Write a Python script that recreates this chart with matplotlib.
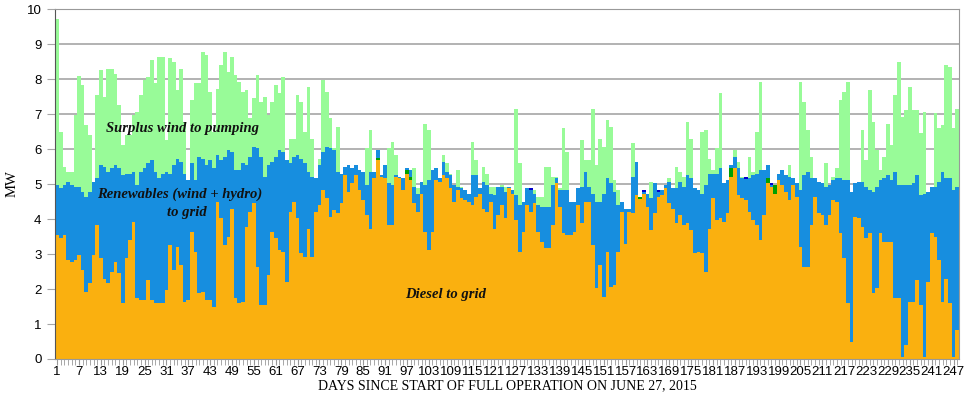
import numpy as np
import matplotlib
matplotlib.use("Agg")
import matplotlib.pyplot as plt

# stack tops, MW per day (day 1 .. 248)
total_top = [
    9.71, 6.50, 5.50, 5.35, 5.35, 6.97, 8.10, 7.83, 6.69, 6.40, 5.07, 7.54, 8.26, 7.50, 8.30, 8.30, 8.16, 7.26, 6.11, 6.40, 6.40, 6.97, 7.07, 7.54, 7.97, 8.07,
    8.54, 7.88, 8.64, 8.64, 6.26, 8.59, 8.50, 7.69, 8.30, 6.78, 5.11, 7.40, 7.88, 7.88, 8.78, 8.69, 7.64, 6.50, 7.73, 8.40, 8.78, 8.21, 8.64, 8.11, 7.92,
    7.64, 7.69, 6.88, 7.45, 8.11, 7.35, 7.50, 6.97, 7.35, 7.83, 7.59, 8.07, 5.69, 6.30, 6.30, 7.54, 7.35, 6.50, 7.78, 6.30, 5.16, 5.73, 7.97, 7.64, 6.88, 6.02, 6.64,
    5.30, 5.50, 5.54, 5.45, 5.54, 5.40, 5.35, 6.02, 6.54, 5.35, 5.97, 5.26, 5.54, 6.02, 6.21, 5.83, 5.21, 5.16, 5.45, 5.40, 5.45, 4.88, 5.07, 6.73, 6.54,
    5.40, 5.45, 5.16, 5.83, 5.59, 5.30, 4.97, 5.40, 4.92, 4.83, 4.73, 6.21, 5.69, 4.88, 5.50, 5.30, 4.92, 4.92, 4.92, 4.97, 4.92, 4.92, 4.83, 7.16, 5.59, 4.50, 4.88,
    4.88, 4.83, 4.64, 4.64, 5.50, 5.50, 5.21, 5.21, 4.88, 6.59, 5.92, 4.50, 4.50, 4.88, 6.26, 5.69, 5.69, 7.16, 5.54, 6.30, 6.07, 6.83, 6.64, 5.11, 4.83, 4.50,
    4.30, 4.30, 6.16, 5.64, 4.64, 4.83, 4.73, 5.07, 5.02, 4.83, 4.83, 4.97, 5.16, 4.88, 5.50, 5.35, 5.21, 6.78, 6.30, 4.88, 4.83, 6.50, 6.54, 5.73, 5.40, 6.02, 7.59,
    5.02, 5.11, 5.54, 5.97, 5.64, 5.21, 5.21, 5.78, 5.35, 6.50, 7.92, 5.40, 5.54, 5.02, 4.97, 5.30, 5.40, 5.26, 5.54, 5.16, 5.02, 7.92, 7.35, 6.54, 5.78,
    5.16, 5.07, 5.02, 5.59, 4.97, 5.21, 5.45, 7.40, 7.64, 7.92, 4.78, 5.02, 5.07, 6.54, 5.69, 7.69, 6.78, 5.97, 5.40, 5.78, 6.73, 6.11, 7.54, 8.50, 6.92, 7.11, 7.78,
    7.11, 7.11, 6.45, 7.07, 4.78, 4.92, 7.02, 6.59, 6.69, 8.40, 8.35, 6.59, 7.16,
]
renew_top = [
    4.97, 4.88, 4.97, 5.07, 4.97, 4.92, 4.92, 4.78, 4.64, 4.78, 5.07, 5.16, 5.54, 5.50, 5.35, 5.45, 5.54, 5.45, 5.26, 5.30, 5.30, 5.35, 4.97, 5.35, 5.45, 5.59,
    5.69, 5.35, 5.16, 5.30, 5.35, 5.30, 5.54, 5.73, 5.64, 5.30, 5.11, 5.59, 5.11, 5.78, 5.73, 5.54, 5.69, 5.45, 5.83, 5.69, 5.78, 5.97, 5.92, 5.40, 5.40,
    5.59, 5.54, 5.78, 6.07, 6.02, 5.78, 5.21, 5.54, 5.64, 5.78, 5.97, 5.92, 5.69, 5.59, 5.78, 5.83, 5.73, 5.59, 5.35, 5.21, 5.16, 5.54, 5.92, 6.07, 6.02, 5.97, 5.35,
    5.30, 5.50, 5.54, 5.45, 5.54, 5.40, 5.35, 4.97, 5.35, 5.35, 5.97, 5.26, 5.54, 5.02, 4.97, 5.26, 5.21, 5.16, 5.45, 5.40, 4.92, 4.73, 5.07, 4.97, 5.11,
    5.40, 5.45, 5.16, 5.64, 5.35, 5.26, 4.97, 4.92, 4.88, 4.83, 4.73, 5.26, 5.26, 4.88, 5.07, 4.97, 4.73, 4.69, 4.92, 4.92, 4.78, 4.92, 4.83, 4.69, 4.40, 4.50, 4.88,
    4.88, 4.73, 4.40, 4.35, 4.35, 4.35, 4.97, 5.16, 4.83, 4.83, 4.83, 4.50, 4.50, 4.88, 4.92, 5.35, 4.92, 4.73, 4.50, 4.50, 4.73, 5.16, 5.02, 4.78, 4.40, 4.50,
    4.30, 4.30, 5.21, 5.64, 4.64, 4.83, 4.73, 4.59, 5.02, 4.83, 4.83, 4.97, 5.07, 4.88, 4.88, 5.07, 4.92, 5.26, 5.16, 4.88, 4.83, 4.73, 4.97, 5.30, 5.30, 5.30, 5.45,
    5.02, 5.11, 5.54, 5.78, 5.45, 5.16, 5.21, 5.16, 5.26, 5.30, 5.40, 5.40, 5.54, 5.02, 4.97, 5.30, 5.40, 5.26, 5.21, 5.16, 5.02, 4.83, 5.26, 5.35, 5.16,
    5.16, 5.07, 5.02, 4.92, 4.97, 5.11, 5.16, 5.16, 5.11, 5.11, 4.78, 5.02, 5.07, 5.07, 4.92, 4.83, 4.78, 4.92, 5.11, 5.16, 5.26, 5.11, 5.35, 4.97, 4.97, 4.97, 4.97,
    5.02, 5.26, 4.69, 4.73, 4.78, 4.92, 4.92, 5.07, 5.35, 5.16, 5.16, 4.83, 4.92,
]
diesel = [
    3.54, 3.45, 3.54, 2.83, 2.78, 2.83, 2.97, 2.54, 1.92, 2.16, 2.97, 3.83, 2.88, 2.30, 2.16, 2.50, 2.78, 2.45, 1.59, 2.88, 3.40, 3.92, 1.73, 1.69, 1.69, 2.26,
    1.69, 1.59, 1.59, 1.59, 1.97, 3.26, 2.54, 3.21, 2.69, 1.64, 1.69, 3.64, 3.07, 1.88, 1.92, 1.69, 1.69, 1.50, 4.50, 4.02, 3.26, 3.50, 4.30, 1.73, 1.59,
    1.64, 3.78, 4.21, 4.45, 2.64, 1.54, 1.54, 2.40, 3.64, 3.45, 3.11, 3.07, 2.21, 4.21, 4.50, 4.02, 3.02, 2.92, 3.73, 2.92, 4.21, 4.40, 4.83, 4.59, 4.07, 4.26, 4.16,
    4.45, 5.26, 4.78, 5.02, 5.26, 4.83, 4.54, 4.11, 3.73, 5.16, 5.69, 5.21, 5.16, 3.83, 3.83, 5.21, 5.16, 4.83, 5.30, 5.11, 4.45, 4.21, 4.73, 3.64, 3.11,
    3.64, 5.11, 5.07, 5.26, 5.16, 4.88, 4.50, 4.83, 4.59, 4.54, 4.50, 4.40, 4.64, 4.73, 4.30, 4.21, 4.50, 3.73, 4.11, 4.40, 4.02, 4.88, 4.73, 3.97, 3.07, 3.64, 4.40,
    4.21, 4.45, 3.64, 3.35, 3.16, 3.16, 3.83, 5.02, 4.35, 3.59, 3.54, 3.54, 3.64, 4.40, 3.88, 4.50, 4.50, 3.26, 2.02, 2.69, 1.78, 3.07, 2.07, 2.11, 3.07, 4.21,
    3.30, 4.21, 4.16, 4.69, 4.56, 4.73, 4.35, 3.69, 4.16, 4.64, 4.69, 4.88, 4.45, 4.30, 3.88, 4.11, 3.83, 3.88, 3.69, 3.02, 3.07, 3.02, 2.50, 3.73, 4.59, 3.97, 4.02,
    3.92, 4.16, 5.21, 5.45, 4.69, 4.59, 4.54, 4.21, 3.97, 3.83, 3.40, 4.11, 5.02, 4.92, 4.73, 5.11, 4.97, 4.78, 4.54, 4.97, 4.64, 3.21, 2.64, 2.64, 3.83,
    4.64, 4.16, 4.11, 3.83, 4.11, 4.54, 4.50, 3.59, 2.88, 1.59, 0.50, 4.07, 4.02, 3.78, 3.45, 3.59, 1.88, 2.02, 3.59, 3.35, 3.35, 3.35, 1.73, 1.73, 0.07, 0.40, 1.64,
    1.64, 2.26, 1.54, 0.07, 2.21, 3.59, 3.50, 2.83, 1.64, 2.30, 1.59, 0.07, 0.83,
]
# small extra slices seen on a few days
other_days = [89, 97, 98, 161, 186, 196, 198]
other_vals = [0.05, 0.10, 0.10, 0.08, 0.24, 0.14, 0.24]
cap_days = [131, 162, 166, 190, 197]
cap_vals = [0.06, 0.06, 0.06, 0.06, 0.06]

n = len(diesel)
assert len(total_top) == n and len(renew_top) == n
days = np.arange(1, n + 1)

diesel = np.array(diesel)
other = np.zeros(n)
other[np.array(other_days) - 1] = other_vals
cap = np.zeros(n)
cap[np.array(cap_days) - 1] = cap_vals
renew = np.maximum(np.array(renew_top) - diesel - other - cap, 0)
surplus = np.maximum(np.array(total_top) - np.array(renew_top), 0)

ORANGE = "#FAB00F"
BLUE = "#178EDF"
LGREEN = "#98FB98"

fig = plt.figure(figsize=(9.75, 3.98), dpi=100)
ax = fig.add_axes([0.0567, 0.098, 0.9269, 0.879])

kw = dict(width=1.0, linewidth=0, edgecolor="none", antialiased=False)
bottom = np.zeros(n)
for vals, col in [(diesel, ORANGE), (other, "#00A000"), (renew, BLUE),
                  (cap, "#0000CC"), (surplus, LGREEN)]:
    ax.bar(days, vals, bottom=bottom, color=col, zorder=2, **kw)
    bottom = bottom + vals

ax.set_xlim(0.5, n + 0.5)
ax.set_ylim(0, 10)
ax.set_yticks(range(0, 11))
ax.yaxis.grid(True, color="#a6a6a6", linewidth=1.2, zorder=0)
ax.set_axisbelow(True)

ax.set_xticks(np.arange(1, n + 1, 6))
ax.set_xticks(days, minor=True)
ax.tick_params(axis="x", which="major", length=4, color="#999999", labelsize=9.5, pad=1)
ax.tick_params(axis="x", which="minor", length=4, color="#999999")
ax.tick_params(axis="y", length=6, color="#a6a6a6", labelsize=9.5, pad=4)
for lab in ax.get_xticklabels() + ax.get_yticklabels():
    lab.set_family("Liberation Sans")

for side in ["top", "right", "bottom"]:
    ax.spines[side].set_color("#999999")
ax.spines["left"].set_color("#555555")

ax.set_ylabel("MW", family="Liberation Serif", fontsize=10.5, labelpad=6)
ax.set_xlabel("DAYS SINCE START OF FULL OPERATION ON JUNE 27, 2015",
              family="Liberation Serif", fontsize=10, labelpad=1)

tkw = dict(family="Liberation Serif", fontweight="bold", fontstyle="italic",
           fontsize=10.5, color="#111111", ha="center", va="center", zorder=5)
ax.text(35.5, 6.6, "Surplus wind to pumping", **tkw)
ax.text(34.5, 4.72, "Renewables (wind + hydro)", **tkw)
ax.text(36.5, 4.2, "to grid", **tkw)
ax.text(107.5, 1.83, "Diesel to grid", **tkw)

fig.savefig("out.png", dpi=100)
